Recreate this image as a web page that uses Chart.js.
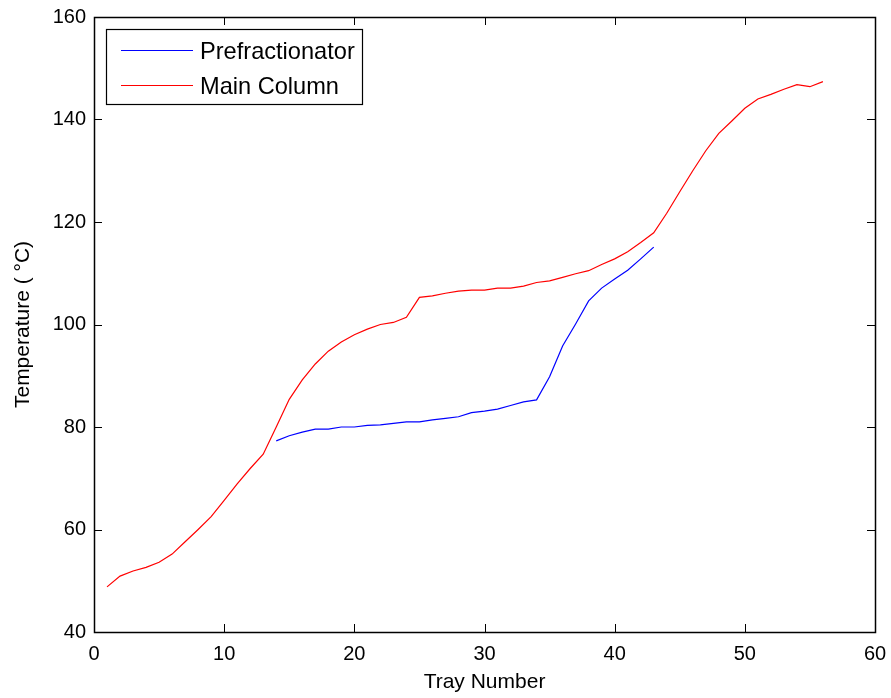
<!DOCTYPE html>
<html>
<head>
<meta charset="utf-8">
<script src="https://cdn.jsdelivr.net/npm/chart.js@4"></script>
<style>
  html, body { margin: 0; padding: 0; background: #fff; }
  #wrap { width: 891px; height: 698px; }
</style>
</head>
<body>
<div id="wrap"><canvas id="c" width="891" height="698"></canvas></div>
<script>
// ---- data ----
const mainTrays = [1,2,3,4,5,6,7,8,9,10,11,12,13,14,15,16,17,18,19,20,21,22,23,24,25,26,27,28,
  29,30,31,32,33,34,35,36,37,38,39,40,41,42,43,44,45,46,47,48,49,50,51,52,53,54,55,56];
const mainTemps = [48.8,50.9,51.9,52.6,53.6,55.2,57.6,60.0,62.5,65.7,68.9,71.9,74.7,80.0,85.4,
  89.2,92.3,94.8,96.6,98.0,99.1,100.0,100.4,101.4,105.3,105.6,106.1,106.5,106.7,106.7,107.1,
  107.1,107.5,108.2,108.5,109.2,109.9,110.5,111.7,112.8,114.2,116.0,117.9,121.7,125.9,130.0,
  133.9,137.3,139.7,142.2,144.0,144.9,145.9,146.8,146.4,147.4];
const preTrays = [14,15,16,17,18,19,20,21,22,23,24,25,26,27,28,29,30,31,32,33,34,35,36,37,38,
  39,40,41,42,43];
const preTemps = [77.3,78.3,79.0,79.6,79.6,80.0,80.0,80.3,80.4,80.7,81.0,81.0,81.4,81.7,82.0,
  82.8,83.1,83.5,84.2,84.9,85.3,89.8,95.8,100.1,104.6,107.1,108.9,110.6,112.8,115.1];
const seriesNames = ['Prefractionator', 'Main Column'];
const seriesColors = ['#0000ff', '#ff0000'];
const xTitle = 'Tray Number';
const yTitle = 'Temperature ( \u00B0C)';
const xRange = [0, 60], xStep = 10;
const yRange = [40, 160], yStep = 20;

const FONT = '"Liberation Sans", Arial, Helvetica, sans-serif';

function toPoints(xs, ys) { return xs.map((x, i) => ({ x: x, y: ys[i] })); }

// inward ticks on all four sides + box
const boxTicks = {
  id: 'boxTicks',
  afterDraw(chart) {
    const { ctx, chartArea: a, scales } = chart;
    const L = 8;
    ctx.save();
    ctx.strokeStyle = '#000';
    ctx.lineWidth = 1;
    ctx.beginPath();
    scales.x.ticks.forEach(t => {
      const px = Math.round(scales.x.getPixelForValue(t.value)) + 0.5;
      ctx.moveTo(px, a.bottom); ctx.lineTo(px, a.bottom - L);
      ctx.moveTo(px, a.top); ctx.lineTo(px, a.top + L);
    });
    scales.y.ticks.forEach(t => {
      const py = Math.round(scales.y.getPixelForValue(t.value)) + 0.5;
      ctx.moveTo(a.left, py); ctx.lineTo(a.left + L, py);
      ctx.moveTo(a.right, py); ctx.lineTo(a.right - L, py);
    });
    ctx.stroke();
    ctx.lineWidth = 1.5;
    ctx.strokeRect(Math.round(a.left) + 0.5, Math.round(a.top) + 0.5,
      Math.round(a.right - a.left), Math.round(a.bottom - a.top));
    ctx.restore();
  }
};

// legend box in the top-left corner of the plot
const insetLegend = {
  id: 'insetLegend',
  afterDraw(chart) {
    const { ctx } = chart;
    const bx = 106, by = 29, bw = 256, bh = 75;
    ctx.save();
    ctx.fillStyle = '#fff';
    ctx.fillRect(bx, by, bw, bh);
    ctx.strokeStyle = '#000';
    ctx.lineWidth = 1.2;
    ctx.strokeRect(bx + 0.5, by + 0.5, bw, bh);
    const rows = [50, 85];
    chart.data.datasets.forEach((ds, i) => {
      const y = rows[i];
      ctx.strokeStyle = ds.borderColor;
      ctx.lineWidth = 1;
      ctx.beginPath();
      ctx.moveTo(121, y + 0.5); ctx.lineTo(193, y + 0.5);
      ctx.stroke();
      ctx.fillStyle = '#000';
      ctx.font = '23.6px ' + FONT;
      ctx.textBaseline = 'middle';
      ctx.textAlign = 'left';
      ctx.fillText(ds.label, 200, y + 2);
    });
    ctx.restore();
  }
};

new Chart(document.getElementById('c'), {
  type: 'line',
  data: {
    datasets: [
      { label: seriesNames[0], data: toPoints(preTrays, preTemps), borderColor: seriesColors[0],
        borderWidth: 1.2, pointRadius: 0, fill: false, tension: 0 },
      { label: seriesNames[1], data: toPoints(mainTrays, mainTemps), borderColor: seriesColors[1],
        borderWidth: 1.2, pointRadius: 0, fill: false, tension: 0 }
    ]
  },
  options: {
    responsive: false,
    animation: false,
    devicePixelRatio: 1,
    layout: { padding: { top: 17, right: 16, bottom: 0, left: 0 } },
    plugins: { legend: { display: false }, tooltip: { enabled: false } },
    scales: {
      x: {
        type: 'linear', min: xRange[0], max: xRange[1],
        ticks: { stepSize: xStep, color: '#000', padding: 10, maxRotation: 0,
          font: { family: FONT, size: 20 } },
        grid: { display: false, drawTicks: false },
        border: { display: true, color: '#000', width: 1 },
        title: { display: true, text: xTitle, color: '#000',
          font: { family: FONT, size: 21 }, padding: { top: 0, bottom: 3 } },
        afterFit(s) { s.height = 66; s.paddingLeft = 0; s.paddingRight = 0; }
      },
      y: {
        type: 'linear', min: yRange[0], max: yRange[1],
        ticks: { stepSize: yStep, color: '#000', padding: 8,
          font: { family: FONT, size: 20 } },
        grid: { display: false, drawTicks: false },
        border: { display: true, color: '#000', width: 1 },
        title: { display: true, text: yTitle, color: '#000',
          font: { family: FONT, size: 21 }, padding: { top: 11, bottom: 0 } },
        afterFit(s) { s.width = 94; s.paddingTop = 0; s.paddingBottom = 0; }
      }
    }
  },
  plugins: [boxTicks, insetLegend]
});
</script>
</body>
</html>
